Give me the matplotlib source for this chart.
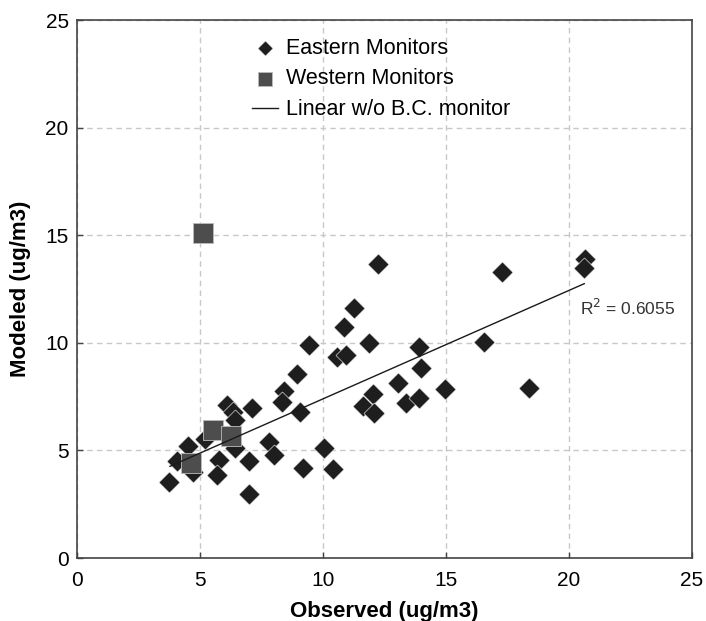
import matplotlib
matplotlib.use("Agg")
import matplotlib.pyplot as plt
import numpy as np

plt.rcParams['font.family'] = ['Liberation Sans', 'DejaVu Sans']

# Eastern monitors (observed, modeled)
east_obs = [3.75, 4.08, 4.53, 4.73, 5.22, 5.79, 5.68, 6.08, 6.33, 6.42, 7.10, 6.42, 7.00, 7.00,
            7.80, 8.00, 8.42, 8.32, 8.95, 9.07, 9.20, 10.04, 10.39, 11.61, 12.05, 12.09, 13.04,
            13.37, 13.92, 14.00, 14.94, 18.39, 12.25, 11.27, 10.87, 11.89, 10.58, 10.93, 13.92,
            16.55, 9.43, 17.26, 20.65, 20.61]
east_mod = [3.53, 4.50, 5.19, 4.00, 5.54, 4.54, 3.84, 7.10, 6.80, 6.39, 6.98, 5.12, 4.50, 2.96,
            5.39, 4.80, 7.75, 7.24, 8.53, 6.80, 4.20, 5.12, 4.12, 7.07, 7.62, 6.73, 8.12,
            7.18, 7.44, 8.85, 7.84, 7.89, 13.66, 11.60, 10.72, 10.00, 9.35, 9.44, 9.80,
            10.02, 9.90, 13.28, 13.88, 13.49]

# Western monitors
west_obs = [5.11, 5.54, 6.26, 4.63]
west_mod = [15.10, 5.96, 5.69, 4.43]

# Linear fit without B.C. monitor
fit_x = [3.78, 20.62]
fit_slope = 0.504
fit_intercept = 2.355
r2_label = "R$^2$ = 0.6055"

xticks = [0, 5, 10, 15, 20, 25]
yticks = [0, 5, 10, 15, 20, 25]

fig = plt.figure(figsize=(7.06, 6.21), dpi=100)
ax = fig.add_axes([77/706, 63/621, 615/706, 538/621])

ax.set_xlim(0, 25)
ax.set_ylim(0, 25)
ax.set_xticks(xticks)
ax.set_yticks(yticks)
ax.grid(True, color='#c8c8c8', linestyle=(0, (4, 3)), linewidth=1.0)
ax.set_axisbelow(True)

ax.scatter(east_obs, east_mod, marker='D', s=115, color='#1e1e1e', edgecolors='white',
           linewidths=0.4, label='Eastern Monitors', zorder=3)
ax.scatter(west_obs, west_mod, marker='s', s=200, color='#4d4d4d', edgecolors='#bbbbbb',
           linewidths=0.6, label='Western Monitors', zorder=4)
fx = np.array(fit_x)
ax.plot(fx, fit_slope * fx + fit_intercept, color='#1a1a1a', linewidth=1.0,
        label='Linear w/o B.C. monitor', zorder=5)

ax.text(20.45, 11.6, r2_label, fontsize=12.5, color='#333333', va='center', ha='left')

for sp in ax.spines.values():
    sp.set_color('#444444')
    sp.set_linewidth(1.2)
ax.tick_params(direction='in', length=4, width=1, color='#444444', labelsize=15)
ax.tick_params(axis='x', pad=9)
ax.tick_params(axis='y', pad=6)

ax.set_xlabel('Observed (ug/m3)', fontsize=16, fontweight='bold', labelpad=8)
ax.set_ylabel('Modeled (ug/m3)', fontsize=16, fontweight='bold', labelpad=10)

leg = ax.legend(loc='upper left', bbox_to_anchor=(0.26, 0.995), frameon=False, fontsize=15.5,
                handlelength=1.2, handletextpad=0.4, labelspacing=0.45, borderaxespad=0.3,
                scatterpoints=1, markerscale=0.72)

fig.savefig('out.png', dpi=100)
